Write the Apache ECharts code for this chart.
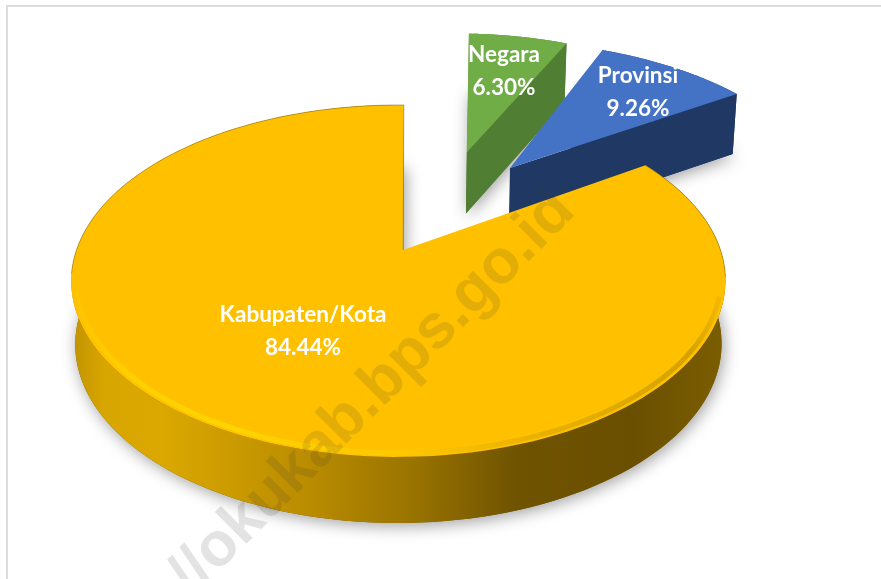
<!DOCTYPE html>
<html><head><meta charset="utf-8">
<style>html,body{margin:0;padding:0;background:#fff}#c{width:881px;height:579px}</style>
<script src="https://cdn.jsdelivr.net/npm/echarts@6/dist/echarts.min.js"></script>
</head><body><div id="c"></div>
<script>
const categories = ['Negara', 'Provinsi', 'Kabupaten/Kota'];
const values = [6.30, 9.26, 84.44];
const watermarkText = 'https://okukab.bps.go.id';

// Look of each slice
const looks = [
  {top:'#70ad47', face:'#507e32', wall:'#507e32', off:[0.22,0.635], apex:[0.22,0.635], rot:2.5, r:1, label:[504,71]},
  {top:'#4472c4', face:'#203864', wall:'#203864', off:[0.363,0.525], apex:[0.363,0.525], rot:1, r:1.04, label:[638,92]},
  {top:'#ffc000', face:'#8a6800', off:[-0.014,0], apex:[0,0], rot:1, r:1, label:[303,331]}
];
const CX=403, CY=250, A=322, B=170.5, K=0.176;
const total = values.reduce((a,b)=>a+b,0);

function project(u,v){ const s=1/(1+K*v); return {x:CX+A*u*s, y:CY-B*v*s, s:s}; }
function depth(s){ return 46.4+16.2*s; }
function arc(off,r,a0,a1,n){
  const pts=[];
  for(let i=0;i<=n;i++){ const t=a0+(a1-a0)*i/n; pts.push(project(off[0]+r*Math.sin(t),off[1]+r*Math.cos(t))); }
  return pts;
}
const P=p=>[p.x,p.y];
const D=p=>[p.x+(CX-p.x)*0.012,p.y+depth(p.s)];

function renderItem(params,api){
  const i=params.dataIndex, look=looks[i];
  let before=0; for(let j=0;j<i;j++) before+=values[j];
  const rot=look.rot*Math.PI/180;
  const a0=before/total*2*Math.PI+rot, a1=(before+api.value(1))/total*2*Math.PI+rot;
  const rim=arc(look.off,look.r,a0,a1,160), apex=project(look.apex[0],look.apex[1]);
  const polygonTop=[P(apex)].concat(rim.map(P));
  const band=rim.map(P).concat(rim.slice().reverse().map(D));
  const shadow={shadowBlur:16,shadowColor:'rgba(0,0,0,0.38)',shadowOffsetY:3,shadowOffsetX:2};
  const wallFill = i===2 ? new echarts.graphic.LinearGradient(0,0,1,0,[
      {offset:0,color:'#c09200'},{offset:0.05,color:'#d8a600'},{offset:0.14,color:'#dba800'},
      {offset:0.36,color:'#ba8c00'},{offset:0.52,color:'#9a7400'},{offset:0.68,color:'#6f5300'},
      {offset:0.86,color:'#6a4f00'},{offset:1,color:'#7c5e00'}]) : look.wall;
  const children=[];
  // floor silhouette carries the soft drop shadow
  children.push({type:'polygon',shape:{points:[D(apex)].concat(rim.map(D))},style:Object.assign({fill:i===2?'#7c5e00':look.wall},shadow),silent:true});
  children.push({type:'polygon',shape:{points:band},style:{fill:wallFill},silent:true});
  // straight cut face
  if(i!==2){
    const e=rim[rim.length-1];
    children.push({type:'polygon',shape:{points:[P(apex),P(e),D(e),D(apex)]},style:{fill:look.face},silent:true});
  }
  children.push({type:'polygon',shape:{points:polygonTop},style:{fill:look.top},silent:true});
  if(i===2){
    // soft bevel along the front rim (held just inside the edge), thin shade on the far rim
    const front=rim.filter(p=>p.y>=296);
    children.push({type:'polyline',shape:{points:front.map(p=>[p.x+(398-p.x)*0.012,p.y-4])},style:{fill:null,lineWidth:5,
      stroke:new echarts.graphic.LinearGradient(0,0,1,0,[
        {offset:0,color:'rgba(255,222,0,0.1)'},{offset:0.08,color:'rgba(255,222,0,0.5)'},{offset:0.25,color:'rgba(255,224,0,0.6)'},{offset:0.5,color:'rgba(255,212,0,0.35)'},
        {offset:0.72,color:'rgba(190,145,0,0.35)'},{offset:0.95,color:'rgba(150,115,0,0.4)'},{offset:1,color:'rgba(150,115,0,0.1)'}]),
      shadowBlur:4,shadowColor:'rgba(255,215,0,0.3)'},silent:true});
    const runs=[[],[]];
    let seenFront=false;
    rim.forEach(p=>{ if(p.y>=278) seenFront=true; else runs[seenFront?1:0].push(p); });
    runs.forEach(run=>{ if(run.length>1) children.push({type:'polyline',shape:{points:run.map(P)},style:{fill:null,lineWidth:1,stroke:'rgba(135,105,10,0.55)'},silent:true}); });
    children.push({type:'polyline',shape:{points:[P(apex),P(rim[rim.length-1])]},style:{fill:null,lineWidth:1,stroke:'rgba(130,130,110,0.5)'},silent:true});
  }
  const pct=api.value(1).toFixed(2)+'%';
  children.push({type:'text',style:{x:look.label[0],y:look.label[1],text:categories[i]+'\n'+pct,fill:'#fff',
     font:'bold 22.5px Lato',lineHeight:33,align:'center',verticalAlign:'middle',textAlign:'center',textVerticalAlign:'middle'},silent:true,z2:10});
  return {type:'group',children:children};
}

const chart=echarts.init(document.getElementById('c'),null,{renderer:'canvas'});
chart.setOption({
  animation:false,
  backgroundColor:'#fff',
  graphic:[
    {type:'rect',z:0,shape:{x:7,y:6,width:900,height:600},style:{fill:'#fff',stroke:'#dcdcdc',lineWidth:2},silent:true},
    {type:'text',z:100,x:565,y:201,rotation:Math.PI/4,
     style:{text:watermarkText,font:'bold 62px "Liberation Sans"',fill:'rgba(60,60,60,0.14)',textAlign:'right',textVerticalAlign:'middle'},silent:true}
  ],
  series:[{type:'custom',coordinateSystem:'none',z:5,renderItem:renderItem,clip:false,silent:true,
    data:values.map((v,i)=>[i,v])}]
});
</script></body></html>
